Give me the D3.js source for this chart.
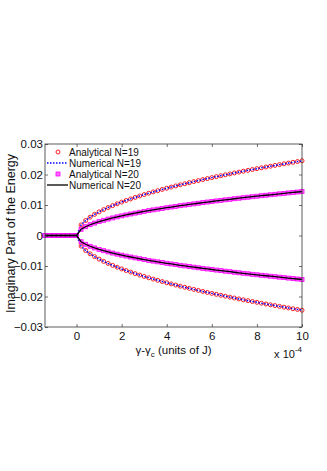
<!DOCTYPE html>
<html>
<head>
<meta charset="utf-8">
<script src="https://cdn.jsdelivr.net/npm/d3@7"></script>
<style>
  body { margin: 0; background: #fff; }
  text { font-family: Arial, "Liberation Sans", sans-serif; fill: #111; }
</style>
</head>
<body>
<svg id="chart" width="327" height="471"></svg>
<script>
'use strict';

// gamma - gamma_c, in units of 1e-4 J
var xFlat = [-1.4, -1.2, -1.0, -0.8, -0.6, -0.4, -0.2, 0];
var xBranch = [0.2, 0.4, 0.6, 0.8, 1.0, 1.2, 1.4, 1.6, 1.8, 2.0,
               2.2, 2.4, 2.6, 2.8, 3.0, 3.2, 3.4, 3.6, 3.8, 4.0,
               4.2, 4.4, 4.6, 4.8, 5.0, 5.2, 5.4, 5.6, 5.8, 6.0,
               6.2, 6.4, 6.6, 6.8, 7.0, 7.2, 7.4, 7.6, 7.8, 8.0,
               8.2, 8.4, 8.6, 8.8, 9.0, 9.2, 9.4, 9.6, 9.8, 10.0];

// imaginary part (upper branch); lower branch is the conjugate (-value)
var imN19 = [0.00347, 0.00490, 0.00600, 0.00693, 0.00775, 0.00849, 0.00917, 0.00980, 0.01039, 0.01096,
             0.01149, 0.01200, 0.01249, 0.01296, 0.01342, 0.01386, 0.01429, 0.01470, 0.01510, 0.01550,
             0.01588, 0.01625, 0.01662, 0.01697, 0.01732, 0.01767, 0.01800, 0.01833, 0.01866, 0.01898,
             0.01929, 0.01960, 0.01990, 0.02020, 0.02050, 0.02079, 0.02108, 0.02136, 0.02164, 0.02191,
             0.02219, 0.02246, 0.02272, 0.02298, 0.02324, 0.02350, 0.02375, 0.02401, 0.02425, 0.02450];
var imN20 = [0.00204, 0.00288, 0.00353, 0.00407, 0.00455, 0.00499, 0.00539, 0.00576, 0.00611, 0.00644,
             0.00675, 0.00705, 0.00734, 0.00762, 0.00789, 0.00815, 0.00840, 0.00864, 0.00888, 0.00911,
             0.00933, 0.00955, 0.00977, 0.00998, 0.01018, 0.01038, 0.01058, 0.01078, 0.01097, 0.01115,
             0.01134, 0.01152, 0.01170, 0.01187, 0.01205, 0.01222, 0.01239, 0.01255, 0.01272, 0.01288,
             0.01304, 0.01320, 0.01335, 0.01351, 0.01366, 0.01381, 0.01396, 0.01411, 0.01426, 0.01440];

var xTicks = [0, 2, 4, 6, 8, 10];
var yTicks = [-0.03, -0.02, -0.01, 0, 0.01, 0.02, 0.03];
var legendLabels = ['Analytical N=19', 'Numerical N=19', 'Analytical N=20', 'Numerical N=20'];

var margin = {left: 45, right: 25, top: 144, bottom: 144},
    width = 327 - margin.left - margin.right,
    height = 471 - margin.top - margin.bottom;

var svg = d3.select('#chart');
var g = svg.append('g').attr('transform', 'translate(' + margin.left + ',' + margin.top + ')');

var x = d3.scaleLinear().domain([-1.4, 10]).range([0, width]);
var y = d3.scaleLinear().domain([-0.03, 0.03]).range([height, 0]);

// build point lists: flat part + branch, upper and lower
function pts(vals, sign) {
  var out = xFlat.map(function(d) { return [d, 0]; });
  xBranch.forEach(function(d, i) { out.push([d, sign * vals[i]]); });
  return out;
}
var n19 = [pts(imN19, 1), pts(imN19, -1)];
var n20 = [pts(imN20, 1), pts(imN20, -1)];

var line = d3.line()
    .x(function(d) { return x(d[0]); })
    .y(function(d) { return y(d[1]); });

// analytical N=19: red open circles
n19.forEach(function(branch) {
  g.append('g').selectAll('circle')
    .data(branch)
    .enter().append('circle')
      .attr('cx', function(d) { return x(d[0]); })
      .attr('cy', function(d) { return y(d[1]); })
      .attr('r', 2)
      .attr('fill', 'none')
      .attr('stroke', '#ff2020')
      .attr('stroke-width', 1);
});

// numerical N=19: blue dotted
n19.forEach(function(branch) {
  g.append('path')
    .datum(branch)
    .attr('d', line)
    .attr('fill', 'none')
    .attr('stroke', '#0000ff')
    .attr('stroke-width', 1.5)
    .attr('stroke-dasharray', '1.5,1.5');
});

// analytical N=20: magenta squares
n20.forEach(function(branch) {
  g.append('g').selectAll('rect')
    .data(branch)
    .enter().append('rect')
      .attr('x', function(d) { return x(d[0]) - 2; })
      .attr('y', function(d) { return y(d[1]) - 2; })
      .attr('width', 4)
      .attr('height', 4)
      .attr('fill', '#ff66ff')
      .attr('stroke', '#ff00ff')
      .attr('stroke-width', 0.8);
});

// numerical N=20: black solid
n20.forEach(function(branch) {
  g.append('path')
    .datum(branch)
    .attr('d', line)
    .attr('fill', 'none')
    .attr('stroke', '#000')
    .attr('stroke-width', 1.3);
});

// axes (box with inward ticks on all sides)
var axisColor = '#333';
function styleAxis(sel) {
  sel.select('.domain').remove();
  sel.selectAll('.tick line').attr('stroke', axisColor).attr('stroke-width', 0.7);
  sel.selectAll('.tick text').attr('font-size', '11.5px').attr('fill', '#111')
     .attr('font-family', 'Arial, "Liberation Sans", sans-serif');
}

g.append('g').attr('transform', 'translate(0,' + height + ')')
  .call(d3.axisBottom(x).tickValues(xTicks).tickSizeInner(-3).tickSizeOuter(0).tickPadding(5).tickFormat(d3.format('d')))
  .call(styleAxis);
g.append('g')
  .call(d3.axisTop(x).tickValues(xTicks).tickSizeInner(-3).tickSizeOuter(0).tickFormat(''))
  .call(styleAxis);
g.append('g')
  .call(d3.axisLeft(y).tickValues(yTicks).tickSizeInner(-3).tickSizeOuter(0).tickPadding(2)
        .tickFormat(function(d) { return d === 0 ? '0' : d3.format('.2f')(d); }))
  .call(styleAxis);
g.append('g').attr('transform', 'translate(' + width + ',0)')
  .call(d3.axisRight(y).tickValues(yTicks).tickSizeInner(-3).tickSizeOuter(0).tickFormat(''))
  .call(styleAxis);

g.append('rect')
  .attr('width', width).attr('height', height)
  .attr('fill', 'none').attr('stroke', axisColor).attr('stroke-width', 0.8);

// legend
var leg = g.append('g').attr('transform', 'translate(2,8)');
legendLabels.forEach(function(lab, i) {
  var row = leg.append('g').attr('transform', 'translate(0,' + (i * 11) + ')');
  if (i === 0) {
    row.append('circle').attr('cx', 11).attr('cy', 0).attr('r', 2)
      .attr('fill', 'none').attr('stroke', '#ff2020').attr('stroke-width', 1);
  } else if (i === 1) {
    row.append('line').attr('x1', 0).attr('x2', 21).attr('y1', 0).attr('y2', 0)
      .attr('stroke', '#0000ff').attr('stroke-width', 1.5).attr('stroke-dasharray', '1.5,1.5');
  } else if (i === 2) {
    row.append('rect').attr('x', 9).attr('y', -2).attr('width', 4).attr('height', 4)
      .attr('fill', '#ff66ff').attr('stroke', '#ff00ff').attr('stroke-width', 0.8);
  } else {
    row.append('line').attr('x1', 0).attr('x2', 21).attr('y1', 0).attr('y2', 0)
      .attr('stroke', '#000').attr('stroke-width', 1.3);
  }
  row.append('text').attr('x', 22).attr('y', 3.5)
    .attr('font-size', '10px').text(lab);
});

// axis titles
var xt = svg.append('text')
  .attr('x', margin.left + width / 2).attr('y', 354)
  .attr('text-anchor', 'middle').attr('font-size', '11.5px');
xt.append('tspan').text('\u03b3-\u03b3');
xt.append('tspan').attr('font-size', '8px').attr('dy', 3).text('c');
xt.append('tspan').attr('dy', -3).text(' (units of J)');

var ex = svg.append('text')
  .attr('x', margin.left + width).attr('y', 358)
  .attr('text-anchor', 'end').attr('font-size', '11px');
ex.append('tspan').text('x 10');
ex.append('tspan').attr('font-size', '8px').attr('dy', -6).text('-4');

svg.append('text')
  .attr('transform', 'translate(15,' + (margin.top + height / 2 - 2) + ') rotate(-90)')
  .attr('text-anchor', 'middle').attr('font-size', '12.5px')
  .text('Imaginary Part of the Energy');
</script>
</body>
</html>
